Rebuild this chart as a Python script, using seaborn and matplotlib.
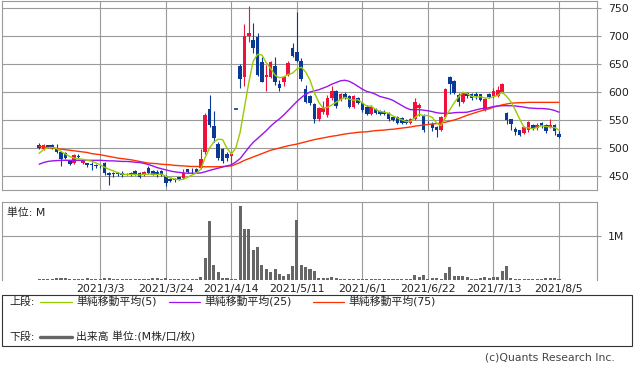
import matplotlib
matplotlib.use('Agg')
import matplotlib.pyplot as plt
import seaborn as sns
import pandas as pd
from matplotlib.patches import Rectangle
from matplotlib.lines import Line2D

sns.set_style('white')
plt.rcParams['font.family'] = ['DejaVu Sans', 'Noto Sans CJK JP']

# Daily candles, 120 trading days ending 2021/8/5
tick_pos = [14, 29, 44, 59, 74, 89, 104, 119]
tick_labels = ['2021/3/3', '2021/3/24', '2021/4/14', '2021/5/11',
               '2021/6/1', '2021/6/22', '2021/7/13', '2021/8/5']

opens = [505, 498, 505, 505, 500, 492, 491, 477, 473, 485,
         473, 473, 471, 469, 468, 474, 456, 456, 456, 456,
         454, 456, 459, 456, 452, 465, 459, 458, 459, 450,
         445, 445, 448, 446, 462, 461, 462, 464, 493, 569,
         539, 507, 498, 489, 485, 569, 646, 627, 700, 692,
         699, 654, 626, 627, 646, 614, 617, 630, 678, 672,
         655, 605, 592, 579, 551, 565, 559, 589, 601, 586,
         596, 592, 574, 589, 580, 574, 561, 569, 566, 565,
         562, 556, 555, 553, 550, 545, 552, 571, 557, 547,
         543, 538, 532, 555, 626, 620, 595, 583, 598, 596,
         597, 596, 568, 596, 592, 593, 600, 563, 551, 534,
         532, 527, 532, 541, 535, 544, 541, 537, 541, 525]
highs = [509, 507, 506, 507, 508, 493, 492, 479, 490, 490,
         481, 474, 475, 471, 470, 475, 458, 457, 458, 459,
         456, 458, 460, 457, 459, 467, 460, 460, 461, 451,
         447, 446, 449, 462, 463, 464, 464, 498, 562, 595,
         566, 511, 500, 492, 492, 569, 650, 721, 753, 723,
         706, 662, 648, 656, 662, 621, 629, 655, 688, 742,
         660, 612, 594, 581, 574, 584, 595, 611, 603, 599,
         600, 594, 594, 591, 582, 576, 576, 571, 567, 567,
         564, 558, 557, 555, 552, 554, 590, 580, 560, 549,
         547, 540, 558, 608, 628, 621, 598, 600, 600, 599,
         600, 597, 590, 598, 608, 611, 616, 565, 552, 538,
         533, 540, 548, 543, 545, 547, 543, 552, 543, 530]
lows = [498, 496, 500, 499, 491, 468, 480, 470, 471, 482,
        471, 466, 460, 465, 464, 452, 434, 448, 450, 449,
        451, 450, 452, 446, 450, 454, 451, 449, 450, 432,
        439, 440, 443, 444, 456, 456, 456, 462, 490, 538,
        511, 479, 474, 477, 470, 569, 607, 611, 690, 669,
        628, 617, 601, 625, 612, 601, 611, 628, 663, 653,
        620, 580, 576, 545, 549, 560, 556, 586, 572, 584,
        587, 572, 572, 578, 565, 559, 559, 561, 559, 559,
        549, 548, 543, 543, 543, 543, 550, 557, 529, 544,
        530, 519, 531, 553, 596, 596, 575, 581, 590, 586,
        588, 584, 566, 589, 590, 591, 598, 542, 533, 524,
        522, 525, 528, 532, 533, 535, 527, 535, 524, 518]
closes = [500, 505, 502, 501, 493, 481, 483, 472, 488, 484,
          479, 470, 469, 467, 467, 455, 451, 454, 453, 452,
          453, 452, 454, 448, 458, 455, 452, 451, 451, 438,
          441, 442, 444, 455, 458, 460, 458, 480, 559, 541,
          517, 482, 476, 482, 489, 569, 623, 700, 705, 678,
          630, 618, 630, 654, 618, 607, 626, 652, 665, 655,
          624, 583, 580, 551, 571, 571, 590, 602, 575, 596,
          589, 574, 592, 580, 567, 561, 574, 563, 561, 561,
          551, 550, 545, 545, 545, 552, 583, 577, 532, 546,
          535, 532, 555, 605, 614, 598, 583, 598, 592, 590,
          592, 586, 587, 591, 602, 604, 614, 550, 542, 529,
          524, 538, 547, 534, 541, 540, 530, 541, 530, 520]
# volume in millions of shares
volume = [0.02, 0.02, 0.02, 0.02, 0.035, 0.035, 0.035, 0.02, 0.02, 0.02,
          0.02, 0.035, 0.02, 0.02, 0.02, 0.035, 0.035, 0.02, 0.02, 0.02,
          0.02, 0.02, 0.02, 0.02, 0.02, 0.02, 0.035, 0.035, 0.02, 0.035,
          0.02, 0.02, 0.02, 0.02, 0.02, 0.02, 0.02, 0.07, 0.5, 1.34,
          0.34, 0.18, 0.05, 0.04, 0.03, 0.03, 1.66, 1.15, 1.15, 0.68,
          0.745, 0.34, 0.25, 0.19, 0.25, 0.14, 0.08, 0.14, 0.32, 1.36,
          0.34, 0.30, 0.25, 0.2, 0.05, 0.05, 0.05, 0.07, 0.05, 0.03,
          0.02, 0.03, 0.03, 0.03, 0.02, 0.03, 0.02, 0.02, 0.02, 0.02,
          0.02, 0.02, 0.02, 0.02, 0.02, 0.03, 0.11, 0.075, 0.12, 0.03,
          0.04, 0.04, 0.02, 0.16, 0.29, 0.1, 0.08, 0.08, 0.07, 0.03,
          0.03, 0.05, 0.07, 0.04, 0.06, 0.06, 0.21, 0.32, 0.05, 0.03,
          0.03, 0.03, 0.02, 0.03, 0.03, 0.03, 0.04, 0.04, 0.05, 0.02]
# moving averages as drawn on the chart
ma5 = [490.5, 497, 500.5, 501, 499, 494, 489, 485, 482, 480.5,
       480, 478, 476.5, 473.5, 470, 465.5, 462, 459, 456, 453.5,
       452.6, 452.8, 452.8, 451.8, 453, 453.4, 453.4, 452.8, 453.4, 449.4,
       446.6, 444.6, 443.2, 444, 448, 451.8, 455, 462.2, 483, 499.6,
       511, 515.8, 515, 499.6, 489.2, 499.6, 527.8, 572.6, 617.2, 655,
       667.2, 666.2, 652.2, 642, 630, 625.4, 627, 631.4, 633.6, 641,
       644.4, 635.8, 621.4, 598.6, 581.8, 571.2, 572.6, 577, 581.8, 586.8,
       590.4, 587.2, 585.2, 586.2, 580.4, 574.8, 574.8, 569, 565.2, 564,
       562, 557.2, 553.6, 550.4, 547.2, 547.4, 554, 560.4, 557.8, 558,
       554.6, 544.4, 540, 554.6, 568.2, 580.8, 591, 599.6, 597, 592.2,
       591, 591.6, 589.4, 589.2, 591.6, 594, 599.6, 592.2, 582.4, 567.8,
       551.8, 536.6, 536, 534.4, 536.8, 540, 538.4, 537.2, 536.4, 532.2]
ma25 = [471, 474, 476, 477, 477.5, 478, 478, 478, 478, 478,
        478, 478, 478, 478, 478, 477.5, 477, 477, 476.5, 476,
        476, 475.5, 474.5, 474, 472.5, 470.5, 468, 465, 463, 461,
        459, 457.5, 456.5, 455.5, 455, 455, 455, 455.5, 457.5, 460,
        462, 464, 466, 468, 470, 475, 481, 491, 501, 510,
        517, 524, 531, 539, 546, 552, 559, 567, 575, 583,
        590, 596, 600, 602, 604, 607, 610, 614, 617, 620,
        621, 619, 615, 610, 605, 601, 599, 596, 592, 590,
        588, 585, 580.5, 576, 571.5, 568.5, 568.5, 568.5, 567.5, 566.5,
        565, 563, 562, 562, 562, 563, 563.5, 563.5, 564, 566,
        568, 570, 571, 572, 574, 575, 575.5, 575.5, 575.5, 575,
        574, 573, 571.5, 571, 570.5, 570.5, 570, 569, 567, 564]
ma75 = [503, 502, 501, 500, 499, 498, 497, 496, 495, 494,
        493, 492, 490, 489, 488, 486.5, 485, 483.5, 482, 481,
        480, 479, 477.5, 476, 474.5, 473, 472.5, 472, 471, 470.5,
        470, 469, 468.5, 468, 467.5, 467, 467, 467, 466.5, 466.5,
        466.5, 466.5, 467, 467.5, 468, 471, 474, 478, 481, 484,
        487, 490, 493, 496, 498, 500, 502, 504, 505.5, 507,
        509, 511, 513, 515, 516.5, 518, 519.5, 521, 522, 523.5,
        525, 526, 527, 528, 528.5, 529, 530, 531, 531.5, 532,
        533, 533.5, 534.5, 535.5, 536.5, 537.5, 539, 540, 541, 542,
        543, 543.5, 544.5, 546, 548, 550, 552.5, 555.5, 558.5, 561,
        563.5, 566, 568, 570, 573, 575, 577, 578.5, 580, 580.5,
        581, 581, 581.5, 581.5, 581.5, 581.5, 581.5, 581.5, 581.5, 581.5]

df = pd.DataFrame({'open': opens, 'high': highs, 'low': lows, 'close': closes,
                   'volume': volume, 'ma5': ma5, 'ma25': ma25, 'ma75': ma75})
df['day'] = range(len(df))

W, H = 634, 370
RED = '#f0103c'
BLUE = '#0b3a96'
GRID = '#9a9a9a'
TXT = '#222222'


def fx(px):
    return px / W


def fy(py):
    return 1 - py / H


fig = plt.figure(figsize=(W / 100, H / 100), dpi=100)
ax1 = fig.add_axes([fx(2), fy(190), fx(595), 189 / H])
ax2 = fig.add_axes([fx(2), fy(280), fx(595), 78.5 / H])

xlim = (-8.5, 127.7)

# price panel
for p in [450, 500, 550, 600, 650, 700, 750]:
    ax1.axhline(p, color=GRID, lw=0.8, zorder=0)
for t in tick_pos:
    ax1.axvline(t, color=GRID, lw=0.8, zorder=0)

for _, r in df.iterrows():
    up = r['close'] > r['open']
    col = RED if up else BLUE
    ax1.vlines(r['day'], r['low'], r['high'], color=col, lw=0.8, zorder=2)
    if abs(r['close'] - r['open']) < 0.5:
        ax1.hlines(r['close'], r['day'] - 0.45, r['day'] + 0.45, color=col, lw=1.2, zorder=2)
    else:
        ax1.bar(r['day'], abs(r['close'] - r['open']), bottom=min(r['open'], r['close']),
                width=0.82, color=col, lw=0, zorder=2)

sns.lineplot(data=df, x='day', y='ma75', ax=ax1, color='#ff3300', lw=1.0, zorder=3)
sns.lineplot(data=df, x='day', y='ma25', ax=ax1, color='#9b14f0', lw=1.0, zorder=3)
sns.lineplot(data=df, x='day', y='ma5', ax=ax1, color='#99cc00', lw=1.0, zorder=4)

ax1.set_xlim(*xlim)
ax1.set_ylim(425, 762.5)
ax1.set_xlabel('')
ax1.set_ylabel('')
ax1.set_xticks([])
ax1.yaxis.tick_right()
ax1.set_yticks([450, 500, 550, 600, 650, 700, 750])
ax1.tick_params(axis='y', length=3, width=0.8, color=GRID, labelsize=7.8,
                labelcolor=TXT, pad=5, right=True, left=False)
for s in ax1.spines.values():
    s.set_color(GRID)
    s.set_linewidth(0.8)

# volume panel
ax2.axhline(1.0, color=GRID, lw=0.8, zorder=0)
for t in tick_pos:
    ax2.axvline(t, color=GRID, lw=0.8, zorder=0)
ax2.bar(df['day'], df['volume'], width=0.7, color='#666666', lw=0,
        antialiased=False, zorder=3)
ax2.set_xlim(*xlim)
ax2.set_ylim(0, 1.77)
ax2.set_xlabel('')
ax2.set_ylabel('')
ax2.yaxis.tick_right()
ax2.set_yticks([1.0])
ax2.set_yticklabels(['1M'])
ax2.set_xticks(tick_pos)
ax2.set_xticklabels(tick_labels)
ax2.tick_params(axis='y', length=3, width=0.8, color=GRID, labelsize=7.8,
                labelcolor=TXT, pad=5, right=True, left=False)
ax2.tick_params(axis='x', length=0, labelsize=7.8, labelcolor=TXT, pad=3)
for s in ax2.spines.values():
    s.set_color(GRID)
    s.set_linewidth(0.8)
ax2.spines['bottom'].set_visible(False)
ax2.text(0.008, 0.93, '単位: M', transform=ax2.transAxes, fontsize=7.8,
         color=TXT, va='top', ha='left')

# legend box
fig.patches.append(Rectangle((fx(2), fy(346)), fx(630), 51 / H, transform=fig.transFigure,
                             fill=False, edgecolor='#333333', lw=0.8))
fig.text(fx(9), fy(302), '上段:', fontsize=7.8, color=TXT, va='center')
legend_items = [(40, 72, 76, '#99cc00', '単純移動平均(5)'),
                (169, 200, 204, '#9b14f0', '単純移動平均(25)'),
                (313, 344, 348, '#ff3300', '単純移動平均(75)')]
for x0, x1, xt, c, lab in legend_items:
    fig.lines.append(Line2D([fx(x0), fx(x1)], [fy(302), fy(302)], color=c, lw=0.9,
                            transform=fig.transFigure))
    fig.text(fx(xt), fy(302), lab, fontsize=7.8, color=TXT, va='center')
fig.text(fx(9), fy(337), '下段:', fontsize=7.8, color=TXT, va='center')
fig.lines.append(Line2D([fx(40), fx(72)], [fy(337), fy(337)], color='#666666', lw=2.4,
                        transform=fig.transFigure))
fig.text(fx(76), fy(337), '出来高 単位:(M株/口/枚)', fontsize=7.8, color=TXT, va='center')

fig.text(fx(615), fy(358), '(c)Quants Research Inc.', fontsize=7.8, color='#444444',
         va='center', ha='right')

fig.savefig('out.png', dpi=100, facecolor='white')
